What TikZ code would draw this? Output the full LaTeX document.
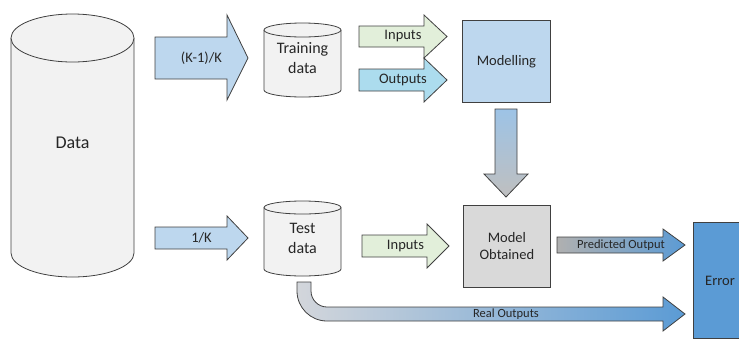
\documentclass[tikz,border=0pt]{standalone}
\usepackage{fontspec}
\setmainfont{Carlito}
\definecolor{edge}{HTML}{404040}
\definecolor{txt}{HTML}{262626}
\definecolor{cylfill}{HTML}{F2F2F2}
\definecolor{lblue}{HTML}{BDD7EE}
\definecolor{lgreen}{HTML}{E2EFDA}
\definecolor{lcyan}{HTML}{ACDCEE}
\definecolor{lgrey}{HTML}{D9D9D9}
\definecolor{mblue}{HTML}{5B9BD5}
\definecolor{sblue}{HTML}{9DC3E6}
\definecolor{sgrey}{HTML}{BFBFBF}
\definecolor{pgrey}{HTML}{B0B0B0}
\definecolor{rgrey}{HTML}{D3D6DB}
\begin{document}
\begin{tikzpicture}[x=1pt,y=-1pt,
  shp/.style={draw=edge, line width=0.8pt, line join=miter},
  lbl/.style={inner sep=0pt, align=center, text=txt},
  fbig/.style={font=\fontsize{18}{20}\selectfont},
  fcyl/.style={font=\fontsize{16}{20}\selectfont},
  fmid/.style={font=\fontsize{14.5}{17}\selectfont},
  fsmall/.style={font=\fontsize{12.5}{14}\selectfont}]
\useasboundingbox (0,0) rectangle (739,341);
\clip (0,0) rectangle (739,341);

% ---------- Data cylinder ----------
\fill[cylfill] (11,38) -- (11,253) .. controls (11,266.3) and (38.5,277) .. (72.5,277)
  .. controls (106.5,277) and (134,266.3) .. (134,253) -- (134,38) -- cycle;
\draw[shp] (11,38) -- (11,253) .. controls (11,266.3) and (38.5,277) .. (72.5,277)
  .. controls (106.5,277) and (134,266.3) .. (134,253) -- (134,38);
\draw[shp, fill=cylfill] (72.5,38) ellipse [x radius=61.5, y radius=24];
\node[lbl, fbig] (data) at (72.5,143) {Data};

% ---------- Training data cylinder ----------
\fill[cylfill] (264,30) -- (264,90) .. controls (264,93.9) and (281.2,97) .. (302.5,97)
  .. controls (323.8,97) and (341,93.9) .. (341,90) -- (341,30) -- cycle;
\draw[shp] (264,30) -- (264,90) .. controls (264,93.9) and (281.2,97) .. (302.5,97)
  .. controls (323.8,97) and (341,93.9) .. (341,90) -- (341,30);
\draw[shp, fill=cylfill] (302.5,30) ellipse [x radius=38.5, y radius=7];
\node[lbl, fcyl] (train) at (302.5,58.5) {Training\\data};

% ---------- Test data cylinder ----------
\fill[cylfill] (264,207.5) -- (264,269) .. controls (264,272.9) and (281.2,276) .. (302.5,276)
  .. controls (323.8,276) and (341,272.9) .. (341,269) -- (341,207.5) -- cycle;
\draw[shp] (264,207.5) -- (264,269) .. controls (264,272.9) and (281.2,276) .. (302.5,276)
  .. controls (323.8,276) and (341,272.9) .. (341,269) -- (341,207.5);
\draw[shp, fill=cylfill] (302.5,207.5) ellipse [x radius=38.5, y radius=6.5];
\node[lbl, fcyl] (test) at (302.5,238.5) {Test\\data};

% ---------- split arrows ----------
\draw[shp, fill=lblue] (155,37) -- (227,37) -- (227,15) -- (248,58) -- (227,100) -- (227,79) -- (155,79) -- cycle;
\node[lbl, fmid] (kk) at (201.5,58) {(K-1)/K};
\draw[shp, fill=lblue] (155,227) -- (227,227) -- (227,216) -- (248,238) -- (227,260) -- (227,249) -- (155,249) -- cycle;
\node[lbl, fmid] (onek) at (201.5,238) {1/K};

% ---------- training inputs / outputs ----------
\draw[shp, fill=lgreen] (359,26) -- (424,26) -- (424,15) -- (447,36.5) -- (424,58) -- (424,47) -- (359,47) -- cycle;
\node[lbl, fmid] (in1) at (403,36.5) {Inputs};
\draw[shp, fill=lcyan] (359,69) -- (424,69) -- (424,58) -- (447,80) -- (424,102) -- (424,91) -- (359,91) -- cycle;
\node[lbl, fmid] (out1) at (403,80) {Outputs};

% ---------- Modelling ----------
\node[shp, fill=lblue, minimum width=88pt, minimum height=82pt, inner sep=0pt, anchor=north west, text=txt, fmid] (model) at (462,20) {Modelling};

% ---------- down arrow ----------
\draw[shp, top color=sblue, bottom color=sgrey] (495,109) -- (517,109) -- (517,174) -- (528,174) -- (506,197) -- (484,174) -- (495,174) -- cycle;

% ---------- Model Obtained ----------
\node[shp, fill=lgrey, minimum width=87pt, minimum height=82pt, inner sep=0pt, anchor=north west, align=center, text=txt, fmid] (obt) at (463,205) {Model\\Obtained};

% ---------- test inputs ----------
\draw[shp, fill=lgreen] (362,235) -- (427,235) -- (427,224) -- (449,246) -- (427,268) -- (427,257) -- (362,257) -- cycle;
\node[lbl, fmid] (in2) at (405.5,246) {Inputs};

% ---------- Predicted output ----------
\draw[shp, left color=pgrey, right color=mblue] (557,237) -- (663,237) -- (663,229) -- (685,245) -- (663,261) -- (663,253) -- (557,253) -- cycle;
\node[lbl, fsmall] (pred) at (621,245) {Predicted Output};

% ---------- Real outputs ----------
\draw[shp, left color=rgrey, right color=mblue] (297,282) -- (297,291) .. controls (297,307.6) and (310.4,321) .. (327,321)
  -- (663,321) -- (663,331) -- (685,314) -- (663,297) -- (663,307) -- (327,307)
  .. controls (318.2,307) and (311,299.8) .. (311,291) -- (311,282) -- cycle;
\node[lbl, fsmall] (real) at (506,314) {Real Outputs};

% ---------- Error ----------
\draw[shp, fill=mblue] (693,222) rectangle (750,338);
\node[lbl, fmid] (err) at (720,281) {Error};
\end{tikzpicture}
\end{document}
